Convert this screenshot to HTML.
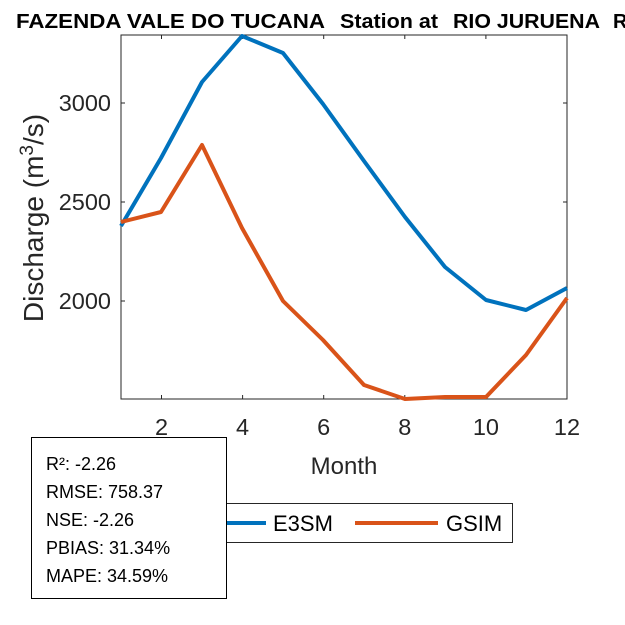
<!DOCTYPE html>
<html><head><style>body{margin:0;background:#fff}svg{display:block}text{font-family:"Liberation Sans",Arial,sans-serif}</style></head><body>
<svg width="625" height="625" viewBox="0 0 625 625" xmlns="http://www.w3.org/2000/svg">
<rect width="625" height="625" fill="#fff"/>
<g font-size="20" font-weight="bold">
<text x="16" y="28" textLength="309" lengthAdjust="spacingAndGlyphs">FAZENDA VALE DO TUCANA</text>
<text x="340" y="28" textLength="98" lengthAdjust="spacingAndGlyphs">Station at</text>
<text x="453" y="28" textLength="147" lengthAdjust="spacingAndGlyphs">RIO JURUENA</text>
<text x="613" y="28">R</text>
</g>
<rect x="121" y="35" width="446" height="364" fill="none" stroke="#262626" stroke-width="1"/>
<g stroke="#262626" stroke-width="1">
<line x1="161.5" y1="399" x2="161.5" y2="395"/><line x1="242.6" y1="399" x2="242.6" y2="395"/><line x1="323.7" y1="399" x2="323.7" y2="395"/><line x1="404.8" y1="399" x2="404.8" y2="395"/><line x1="485.9" y1="399" x2="485.9" y2="395"/>
<line x1="161.5" y1="35" x2="161.5" y2="39"/><line x1="242.6" y1="35" x2="242.6" y2="39"/><line x1="323.7" y1="35" x2="323.7" y2="39"/><line x1="404.8" y1="35" x2="404.8" y2="39"/><line x1="485.9" y1="35" x2="485.9" y2="39"/>
<line x1="121" y1="103" x2="125" y2="103"/><line x1="121" y1="202" x2="125" y2="202"/><line x1="121" y1="301" x2="125" y2="301"/>
<line x1="567" y1="103" x2="563" y2="103"/><line x1="567" y1="202" x2="563" y2="202"/><line x1="567" y1="301" x2="563" y2="301"/>
</g>
<g font-size="23.5" fill="#262626" text-anchor="middle">
<text x="161.5" y="435">2</text><text x="242.6" y="435">4</text><text x="323.7" y="435">6</text><text x="404.8" y="435">8</text><text x="485.9" y="435">10</text><text x="567" y="435">12</text>
</g>
<g font-size="23.5" fill="#262626" text-anchor="end">
<text x="111" y="111">3000</text><text x="111" y="210">2500</text><text x="111" y="309">2000</text>
</g>
<text x="344" y="474" font-size="24" fill="#262626" text-anchor="middle">Month</text>
<text transform="translate(43,218) rotate(-90)" font-size="28" fill="#262626" text-anchor="middle">Discharge (m<tspan font-size="19" dy="-10">3</tspan><tspan dy="10">/s)</tspan></text>
<polyline fill="none" stroke="#0072BD" stroke-width="4" stroke-linejoin="round" points="121,226 161,158 202,82 242,36 283,53 323,104 364,161 405,217 445,267 486,300 526,310 567,288"/>
<polyline fill="none" stroke="#D95319" stroke-width="4" stroke-linejoin="round" points="121,222 161,212 202,145 242,228 283,301 323,340 364,385 405,399 445,397 486,397 526,355 567,298"/>
<rect x="215.5" y="503.5" width="297" height="39" fill="#fff" stroke="#262626"/>
<line x1="225" y1="523" x2="266" y2="523" stroke="#0072BD" stroke-width="4"/>
<text x="273" y="531" font-size="22">E3SM</text>
<line x1="355" y1="523" x2="438" y2="523" stroke="#D95319" stroke-width="4"/>
<text x="446" y="531" font-size="22">GSIM</text>
<rect x="31.5" y="437.5" width="195" height="161" fill="#fff" stroke="#000"/>
<g font-size="18" fill="#000">
<text x="46" y="470">R²: -2.26</text>
<text x="46" y="498">RMSE: 758.37</text>
<text x="46" y="526">NSE: -2.26</text>
<text x="46" y="554">PBIAS: 31.34%</text>
<text x="46" y="582">MAPE: 34.59%</text>
</g>
</svg>
</body></html>
